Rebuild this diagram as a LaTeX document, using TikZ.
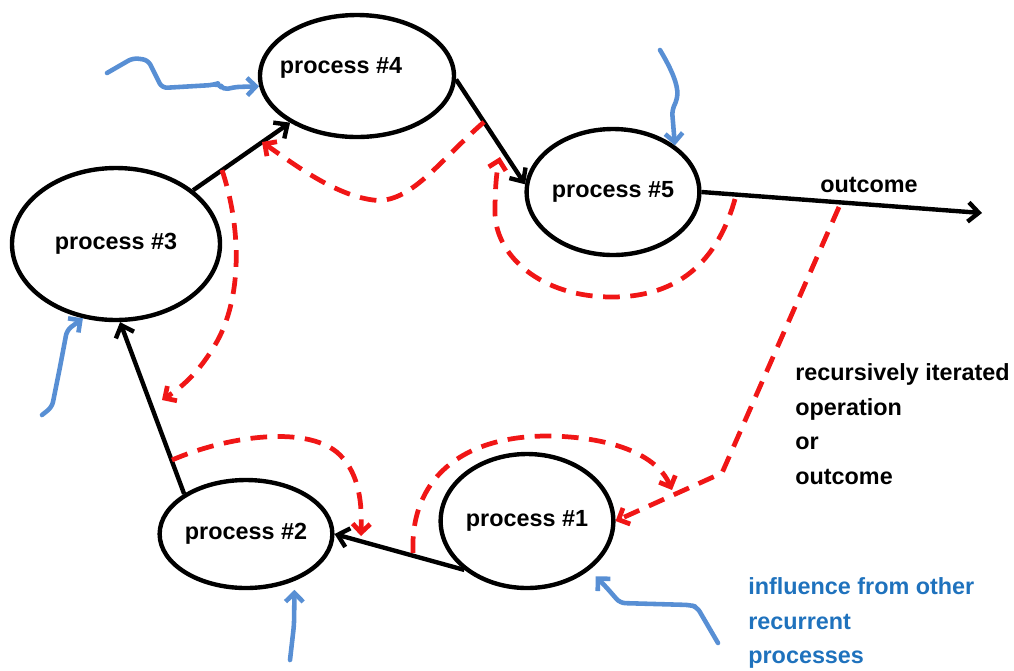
\documentclass[tikz,border=0pt]{standalone}
\usepackage{fontspec}
\setmainfont{Liberation Sans}
\usetikzlibrary{arrows.meta}
\usetikzlibrary{shapes.geometric}
\usetikzlibrary{calc}

\definecolor{loopred}{RGB}{240,22,22}
\definecolor{inflblue}{RGB}{88,143,212}
\definecolor{textblue}{RGB}{31,114,189}

\tikzset{
	proc/.style={ellipse, draw, line width=2.5pt, inner sep=0pt, font=\fontsize{13.3}{16}\selectfont\bfseries},
	note/.style={inner sep=0pt, align=left, font=\fontsize{13.3}{19.6}\selectfont\bfseries},
	flow/.style={line width=2.5pt, -{Straight Barb[length=6pt,width=11pt]}},
	feedback/.style={color=loopred, line width=2.7pt, dash pattern=on 9.5pt off 6pt, -{Straight Barb[length=5pt,width=10pt]}},
	influence/.style={color=inflblue, line width=2.6pt, line join=round, line cap=round, rounded corners=3pt, -{Straight Barb[length=5pt,width=10pt]}}
}

\begin{document}
\begin{tikzpicture}[x=0.2mm, y=-0.2mm]
	\useasboundingbox (0,0) rectangle (1014,670);

	% Processes
	\node[proc, minimum width=38.8mm, minimum height=24.4mm, label={[font=\fontsize{13.3}{16}\selectfont\bfseries, xshift=-3.2mm, yshift=1.6mm]center:process \#4}] (p4) at (357,76) {};
	\node[proc, minimum width=30.4mm, minimum height=25.2mm] (p5) at (613,192) {process \#5};
	\node[proc, minimum width=41.6mm, minimum height=30.4mm] (p3) at (116,244) {process \#3};
	\node[proc, minimum width=33.6mm, minimum height=21.6mm] (p2) at (246,534) {process \#2};
	\node[proc, minimum width=30.8mm, minimum height=26.8mm] (p1) at (527,521) {process \#1};

	% Main chain
	\coordinate (out) at (982,213);
	\draw[flow] (p1.218) -- (p2.east);
	\draw[flow] (p2.147) -- (p3.-87);
	\draw[flow] (p3) -- (p4);
	\draw[flow] (p4.-2) -- (p5.175);
	\draw[flow] (p5.east) -- (out);
	\node[note] (outtext) at (869,185) {outcome};

	% Feedback loops
	\coordinate (r1s) at (484,122);
	\coordinate (r1e) at (262,142);
	\draw[feedback] (r1s) .. controls (440,160) and (410,205) .. (373,200) .. controls (335,195) and (295,165) .. (r1e);

	\coordinate (r2s) at (222,170);
	\coordinate (r2e) at (162,400);
	\draw[feedback] (r2s) .. controls (242,230) and (242,300) .. (215,345) .. controls (200,370) and (185,385) .. (r2e);

	\coordinate (r3s) at (735,199);
	\coordinate (r3e) at (500,157);
	\draw[feedback] (r3s) .. controls (715,270) and (670,297) .. (612,297) .. controls (540,297) and (495,255) .. (495,212) .. controls (495,185) and (497,170) .. (r3e);

	\coordinate (r4s) at (839,207);
	\coordinate (r4m) at (722,473);
	\draw[feedback] (r4s) -- (r4m) -- (p1.east);

	\coordinate (r5s) at (413,553);
	\coordinate (r5e) at (672,490);
	\draw[feedback] (r5s) .. controls (410,480) and (460,437) .. (545,436) .. controls (600,436) and (655,450) .. (r5e);

	\coordinate (r6s) at (172,460);
	\coordinate (r6e) at (361,536);
	\draw[feedback] (r6s) .. controls (230,435) and (310,425) .. (340,455) .. controls (360,475) and (362,505) .. (r6e);

	\node[note, anchor=west] (recur) at (795,424) {recursively iterated\\operation\\or\\outcome};

	% Outside influences
	\draw[influence] (107,73) -- (133,58) -- (148,60) -- (162,88) -- (213,85) -- (219,83) -- (223,90) -- (235,87) -- (p4.186);
	\draw[influence] (660,50) .. controls (672,70) and (678,85) .. (677,100) -- (672,110) -- (p5.37);
	\draw[influence] (42,415) -- (52,407) -- (60,367) -- (67,330) -- (p3.-114);
	\draw[influence, shorten >=5pt] (290,660) -- (294,625) -- (p2.-44);
	\draw[influence, shorten >=5pt] (718,643) -- (697,607) -- (690,605) -- (620,603) -- (607,588) -- (p1.-38);

	\node[note, text=textblue, anchor=west] (infl) at (748,623) {influence from other\\recurrent\\processes};
\end{tikzpicture}
\end{document}
